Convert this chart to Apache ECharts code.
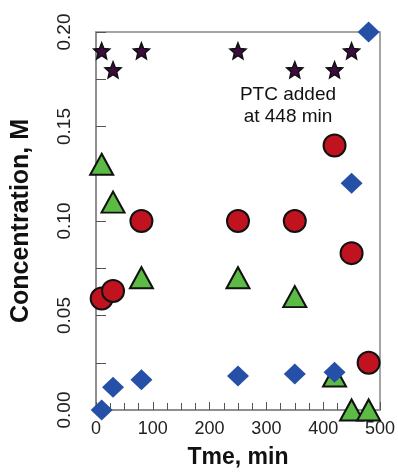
<!DOCTYPE html>
<html>
<head>
<meta charset="utf-8">
<script src="https://cdn.jsdelivr.net/npm/echarts@6/dist/echarts.min.js"></script>
<style>
	html, body { margin: 0; padding: 0; background: #fff; }
	#chart { width: 398px; height: 474px; }
</style>
</head>
<body>
<div id="chart"></div>
<script>
// data: [time (min), concentration (M)]
var starPts = [[10, 0.19], [30, 0.18], [80, 0.19], [250, 0.19], [350, 0.18], [420, 0.18], [450, 0.19]];
var trianglePts = [[10, 0.13], [30, 0.11], [80, 0.07], [250, 0.07], [350, 0.06], [420, 0.018], [450, 0], [480, 0]];
var circlePts = [[10, 0.059], [30, 0.063], [80, 0.10], [250, 0.10], [350, 0.10], [420, 0.14], [450, 0.083], [480, 0.025]];
var diamondPts = [[10, 0], [30, 0.012], [80, 0.016], [250, 0.018], [350, 0.019], [420, 0.02], [450, 0.12], [480, 0.20]];
var xTicks = [0, 100, 200, 300, 400, 500];
var yTicks = ['0.00', '0.05', '0.10', '0.15', '0.20'];

var chart = echarts.init(document.getElementById('chart'));
var font = 'Liberation Sans, Arial, sans-serif';

function pts(name, data, symbol, size, color, border) {
	return {
		name: name,
		type: 'scatter',
		data: data,
		symbol: symbol,
		symbolSize: size,
		clip: false,
		itemStyle: {
			color: color,
			borderColor: '#111',
			borderWidth: border,
			opacity: 1
		}
	};
}

var option = {
	animation: false,
	backgroundColor: '#fff',
	grid: {
		left: 96, right: 17, top: 32, bottom: 54,
		show: true,
		borderColor: '#888',
		borderWidth: 1.5
	},
	xAxis: {
		type: 'value',
		min: 0, max: 500, interval: 100,
		name: 'Tme, min',
		nameLocation: 'middle',
		nameGap: 36,
		nameTextStyle: { fontFamily: font, fontSize: 23, fontWeight: 'bold', color: '#111' },
		axisLine: { show: true, lineStyle: { color: '#888', width: 1.5 } },
		axisTick: { show: true, inside: true, length: 8, lineStyle: { color: '#555' } },
		minorTick: { show: true, splitNumber: 4, length: 7, lineStyle: { color: '#555' } },
		splitLine: { show: false },
		axisLabel: {
			fontFamily: font, fontSize: 18, color: '#222', margin: 10,
			formatter: function(v) { return xTicks.indexOf(v) >= 0 ? String(v) : ''; }
		}
	},
	yAxis: {
		type: 'value',
		min: 0, max: 0.2, interval: 0.05,
		name: 'Concentration, M',
		nameLocation: 'middle',
		nameGap: 62,
		nameTextStyle: { fontFamily: font, fontSize: 25, fontWeight: 'bold', color: '#111' },
		axisLine: { show: true, lineStyle: { color: '#888', width: 1.5 } },
		axisTick: { show: true, inside: true, length: 10, lineStyle: { color: '#555' } },
		minorTick: { show: true, splitNumber: 2, length: 10, lineStyle: { color: '#555' } },
		splitLine: { show: false },
		axisLabel: {
			fontFamily: font, fontSize: 19, color: '#222', rotate: 90, margin: 22,
			align: 'center',
			formatter: function(v) { return yTicks[Math.round(v / 0.05)]; }
		}
	},
	graphic: [{
		type: 'text',
		x: 288, y: 84,
		style: {
			text: 'PTC added\nat 448 min',
			fontFamily: font, fontSize: 19, lineHeight: 22,
			fill: '#111', align: 'center', verticalAlign: 'top'
		}
	}],
	series: [
		pts('stars', starPts, 'path://M0,-10 L2.6,-3.6 L9.51,-3.09 L4.3,1.4 L5.88,8.09 L0,4.5 L-5.88,8.09 L-4.3,1.4 L-9.51,-3.09 L-2.6,-3.6 Z', 16, '#3d0b3f', 1.5),
		pts('triangles', trianglePts, 'triangle', [23, 21], '#5cbb45', 2),
		pts('circles', circlePts, 'circle', 22, '#c1131f', 2),
		pts('diamonds', diamondPts, 'diamond', [22, 21], '#2650a7', 0)
	]
};
chart.setOption(option);
</script>
</body>
</html>
